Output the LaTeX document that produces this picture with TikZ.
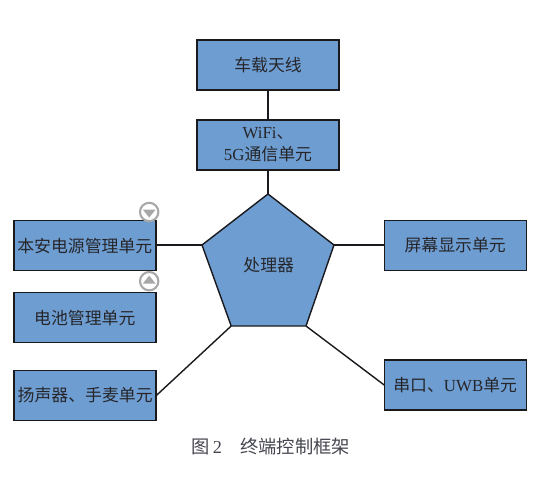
\documentclass[tikz,border=0pt]{standalone}
\usepackage{fontspec}
\setmainfont{Liberation Serif}
\newfontfamily\cjk{Noto Sans CJK SC}
\usetikzlibrary{arrows.meta,calc}
\definecolor{FrameFill}{HTML}{6E9DD2}
\definecolor{FrameInk}{HTML}{1A1A1E}
\definecolor{FrameText}{HTML}{26262A}
\definecolor{FrameCaption}{HTML}{45454F}
\definecolor{FrameGuide}{HTML}{A8A8A8}
\tikzset{
    frame/diagram/.style={
        font=\fontsize{12pt}{15.5pt}\selectfont,
        text=FrameText,
        line join=miter,
        every node/.style={inner sep=0pt, outer sep=0pt}
    },
    frame/unit/.style={
        draw=FrameInk, fill=FrameFill, line width=1pt,
        minimum width=3.55cm, minimum height=1.25cm, align=center
    },
    frame/link/.style={draw=FrameInk, line width=1pt},
    frame/core/.style={draw=FrameInk, fill=FrameFill, line width=1pt},
    frame/ring/.style={
        circle, draw=FrameGuide, fill=white, line width=1.5pt,
        minimum size=0.46cm
    },
    frame/caption/.style={text=FrameCaption, font=\fontsize{13pt}{15pt}\selectfont}
}

\begin{document}
\begin{tikzpicture}[frame/diagram]
    \useasboundingbox (0,0) rectangle (13.475,12);

    % Upper chain of units.
    \node[frame/unit] (antenna) at (6.7,10.375) {\cjk 车载天线};
    \node[frame/unit] (wifi) at (6.7,8.375) {WiFi{\cjk 、}\\5G{\cjk 通信单元}};

    % Left and right units.
    \node[frame/unit] (power) at (2.12,5.86) {\cjk 本安电源管理单元};
    \node[frame/unit] (battery) at (2.12,4.06) {\cjk 电池管理单元};
    \node[frame/unit] (speaker) at (2.13,2.11) {\cjk 扬声器、手麦单元};
    \node[frame/unit] (screen) at (11.38,5.86) {\cjk 屏幕显示单元};
    \node[frame/unit] (serial) at (11.38,2.375) {{\cjk 串口、}UWB{\cjk 单元}};

    % Corners of the processor.
    \coordinate (coreTop) at (6.7,7.15);
    \coordinate (coreLeft) at (5.05,5.875);
    \coordinate (coreRight) at (8.35,5.875);
    \coordinate (coreLower) at (5.78,3.85);
    \coordinate (coreRear) at (7.65,3.85);
    \draw[frame/core] (coreTop) -- (coreRight) -- (coreRear)
        -- (coreLower) -- (coreLeft) -- cycle;
    \node (core) at (6.72,5.38) {\cjk 处理器};

    \draw[frame/link] (antenna) -- (wifi);
    \draw[frame/link] (wifi) -- (coreTop);
    \draw[frame/link] (power.east |- coreLeft) -- (coreLeft);
    \draw[frame/link] (screen.west |- coreRight) -- (coreRight);
    \draw[frame/link] (speaker.east) -- (coreLower);
    \draw[frame/link] (serial.west) -- (coreRear);

    % Folding marks between the two left units.
    \node[frame/ring] (foldDown) at (3.73,6.7) {};
    \fill[FrameGuide] (3.57,6.76) -- (3.89,6.76) -- (3.73,6.56) -- cycle;
    \node[frame/ring] (foldUp) at (3.73,4.97) {};
    \fill[FrameGuide] (3.57,4.91) -- (3.89,4.91) -- (3.73,5.11) -- cycle;

    \node[frame/caption] (caption) at (6.77,0.83) {{\cjk 图}\,2\hspace{1em}{\cjk 终端控制框架}};
\end{tikzpicture}
\end{document}
